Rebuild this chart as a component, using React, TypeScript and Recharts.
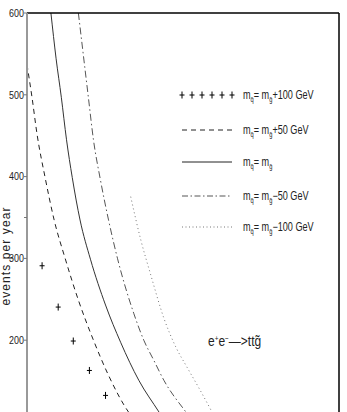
import React from 'react';
import { ComposedChart, Line, Scatter, XAxis, YAxis, Customized } from 'recharts';

// m_squark = m_gluino + 100 GeV (crosses)
const plusX = [114.5, 130, 144.5, 160, 175.5];
const plusY = [291, 240.5, 199, 163, 132.5];

// m_squark = m_gluino + 50 GeV (dashed)
const dashedX = [100, 104.8, 109.7, 117.4, 126.1, 136.8, 149.4, 163.9, 178.4, 197.7, 205];
const dashedY = [537, 497, 451.5, 399, 347, 299.5, 249, 200, 157, 112, 100];

// m_squark = m_gluino (solid)
const solidX = [123, 128, 133, 138, 143.5, 151, 161, 175.5, 190, 207.5, 227, 233];
const solidY = [600, 544, 497, 445, 399, 347, 299, 243, 197.5, 151, 112, 100];

// m_squark = m_gluino - 50 GeV (dash-dot)
const dashdotX = [149.4, 159, 163.9, 170.6, 178.4, 187.1, 202.6, 212.3, 221.9, 231.6, 252.9, 260];
const dashdotY = [600, 497, 445, 396, 347, 299.5, 233, 200, 175.5, 151, 112, 100];

// m_squark = m_gluino - 100 GeV (dotted)
const dottedX = [199.7, 209.4, 219.0, 231.6, 243.2, 253.9, 265.5, 277.1, 282.9];
const dottedY = [375.5, 322.7, 279.8, 227.0, 191.4, 166.9, 141.1, 114.1, 100];

const xTicks = [100, 150, 200, 250, 300, 350, 400];
const yTicks = [200, 300, 350, 400, 500, 600];
const yRightTicks = [200, 300, 400, 500, 600];
const yAxisLabel = 'events per year';

const zip = (xs: number[], ys: number[]) => xs.map((x, i) => ({ x, y: ys[i] }));
const plusData = zip(plusX, plusY);
const dashedData = zip(dashedX, dashedY);
const solidData = zip(solidX, solidY);
const dashdotData = zip(dashdotX, dashdotY);
const dottedData = zip(dottedX, dottedY);

const SANS = "'Liberation Sans', Arial, sans-serif";

const PlusShape = (props: any) => {
  const { cx, cy } = props;
  if (cx == null || cy == null) return null;
  return (
    <g stroke="#000" strokeWidth={1}>
      <line x1={cx - 2.5} x2={cx + 2.5} y1={cy} y2={cy} />
      <line x1={cx} x2={cx} y1={cy - 3.5} y2={cy + 3.5} />
    </g>
  );
};

const YTick = (props: any) => {
  const { x, y, payload } = props;
  if (payload.value === 350) return null;
  return (
    <g transform={`translate(${x}, ${y}) scale(0.85, 1)`}>
      <text x={0} y={0} dy={3.8} textAnchor="end" fontSize={10.5} fontFamily={SANS} fill="#222">
        {payload.value}
      </text>
    </g>
  );
};

const legendRows = [
  { kind: 'plus', suffix: '+100 GeV', y: 95 },
  { kind: 'dash', suffix: '+50 GeV', y: 130 },
  { kind: 'solid', suffix: '', y: 162 },
  { kind: 'dashdot', suffix: '\u221250 GeV', y: 196 },
  { kind: 'dot', suffix: '\u2212100 GeV', y: 227 },
];

const Overlay = () => (
  <g>
    {legendRows.map((r) => {
      let sample: any = null;
      if (r.kind === 'plus') {
        sample = (
          <g>
            {[182, 192, 202, 212, 222, 232].map((px) => (
              <PlusShape key={px} cx={px} cy={r.y} />
            ))}
          </g>
        );
      } else {
        const dash =
          r.kind === 'dash' ? '5 4' : r.kind === 'dashdot' ? '6 2.5 1.5 2.5' : r.kind === 'dot' ? '1 2.5' : undefined;
        const col = r.kind === 'dot' ? '#777' : r.kind === 'dashdot' ? '#555' : '#222';
        sample = <line x1={182} x2={232} y1={r.y} y2={r.y} stroke={col} strokeWidth={1} strokeDasharray={dash} />;
      }
      return (
        <g key={r.kind}>
          {sample}
          <g transform={`translate(243, ${r.y + 4}) scale(0.76, 1)`}>
            <text x={0} y={0} fontSize={12} fontFamily={SANS} fill="#222">
              m<tspan dy={3} fontSize={7.5}>q̃</tspan>
              <tspan dy={-3}>= m</tspan>
              <tspan dy={3} fontSize={7.5}>g̃</tspan>
              <tspan dy={-3}>{r.suffix}</tspan>
            </text>
          </g>
        </g>
      );
    })}
    <g transform="translate(208, 346) scale(0.8, 1)">
      <text x={0} y={0} fontSize={15} fontFamily={SANS} fill="#222">
        e<tspan dy={-5} fontSize={8}>+</tspan>
        <tspan dy={5}>e</tspan>
        <tspan dy={-5} fontSize={8}>{'\u2212'}</tspan>
        <tspan dy={5}>{'\u2014>tt'}</tspan>
        <tspan>g̃</tspan>
      </text>
    </g>
    <text
      x={0}
      y={0}
      transform="translate(10, 256) rotate(-90)"
      textAnchor="middle"
      fontSize={12}
      letterSpacing={1.1}
      fontFamily={SANS}
      fill="#222"
    >
      {yAxisLabel}
    </text>
  </g>
);

export default function App() {
  return (
    <div style={{ position: 'absolute', left: 0, top: 0, width: 347, height: 412, overflow: 'hidden', background: '#fff' }}>
      <ComposedChart width={347} height={460} margin={{ top: 13, right: 8, bottom: 38, left: 0 }}>
        <XAxis
          dataKey="x"
          type="number"
          orientation="top"
          domain={[100, 400]}
          ticks={xTicks}
          height={1}
          mirror
          tick={false}
          tickSize={4}
          axisLine={{ stroke: '#000', strokeWidth: 1.5 }}
          tickLine={{ stroke: '#888' }}
        />
        <YAxis
          yAxisId="left"
          type="number"
          domain={[100, 600]}
          ticks={yTicks}
          width={27}
          tickSize={3}
          tickMargin={0}
          tick={<YTick />}
          axisLine={{ stroke: '#999', strokeWidth: 2 }}
          tickLine={{ stroke: '#777' }}
        />
        <YAxis
          yAxisId="right"
          orientation="right"
          type="number"
          domain={[100, 600]}
          ticks={yRightTicks}
          width={1}
          mirror
          tick={false}
          tickSize={4}
          axisLine={{ stroke: '#000', strokeWidth: 1.5 }}
          tickLine={{ stroke: '#333' }}
        />
        <Scatter yAxisId="left" data={plusData} dataKey="y" shape={<PlusShape />} isAnimationActive={false} />
        <Line yAxisId="left" data={dashedData} dataKey="y" type="monotone" stroke="#222" strokeWidth={1} strokeDasharray="5 4" dot={false} activeDot={false} isAnimationActive={false} />
        <Line yAxisId="left" data={solidData} dataKey="y" type="monotone" stroke="#333" strokeWidth={1} dot={false} activeDot={false} isAnimationActive={false} />
        <Line yAxisId="left" data={dashdotData} dataKey="y" type="monotone" stroke="#555" strokeWidth={1} strokeDasharray="7 3 1.5 3" dot={false} activeDot={false} isAnimationActive={false} />
        <Line yAxisId="left" data={dottedData} dataKey="y" type="monotone" stroke="#777" strokeWidth={1} strokeDasharray="1 3" dot={false} activeDot={false} isAnimationActive={false} />
        <Customized component={Overlay} />
      </ComposedChart>
    </div>
  );
}
